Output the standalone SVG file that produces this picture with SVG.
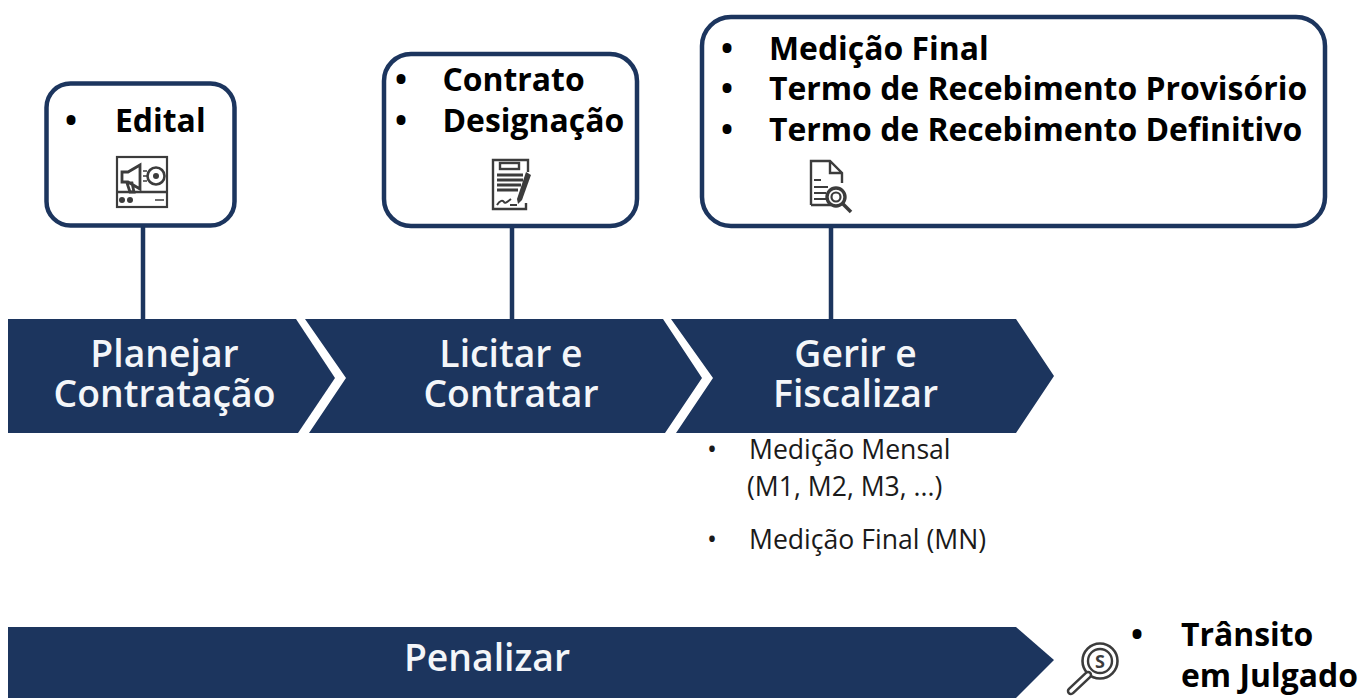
<svg xmlns="http://www.w3.org/2000/svg" width="1360" height="698" viewBox="0 0 1360 698">
<style>
text{font-family:"Open Sans","Noto Sans",sans-serif}
.band{fill:#1c355e}
.box{fill:#fff;stroke:#1c355e;stroke-width:4.5}
.conn{stroke:#1c355e;stroke-width:4.5;fill:none}
.t{font-size:31.900px;font-weight:700;fill:#000}
.b{font-size:37.300px;font-weight:600;fill:#f4f6f9;text-anchor:middle}
.s{font-size:26.600px;fill:#1a1a1a}
.i{fill:none;stroke:#3c3c3c}
.f{fill:#3c3c3c}
</style>
<g id="connectors">
<path class="conn" d="M143 225V320M512 225V320M831 225V320"/>
</g>
<g id="node-edital">
<rect class="box" x="46.500" y="83.500" width="188" height="142" rx="24"/>
<text class="t"><tspan x="65" y="132">•</tspan><tspan x="115" y="132">Edital</tspan></text>
<g>
<rect class="i" x="117" y="157" width="50" height="50" stroke-width="2.200"/>
<path class="i" d="M117 192H167" stroke-width="2.500"/>
<path class="i" d="M122 172h6l12-7v24l-12-7h-6zM127 183h5l2 9h-4z" stroke-width="2.800"/>
<circle class="i" cx="156" cy="176" r="8.500" stroke-width="2.600"/><circle class="f" cx="156" cy="176" r="3"/>
<circle class="f" cx="122" cy="200" r="3"/><circle class="f" cx="130" cy="200" r="3"/>
<path class="i" d="M155 200h9M143 171h4M143 176h4M143 181h4" stroke-width="1.500"/>
</g>
</g>
<g id="node-contrato">
<rect class="box" x="384" y="54" width="253" height="172" rx="27"/>
<text class="t"><tspan x="395" y="91">•</tspan><tspan x="442.500" y="91">Contrato</tspan><tspan x="395" y="132">•</tspan><tspan x="442.500" y="132">Designação</tspan></text>
<g>
<path class="i" d="M528 172V160H493V209H526V203" stroke-width="2.400"/>
<rect class="i" x="500" y="163" width="19" height="6" stroke-width="2.400"/>
<path class="i" d="M497 175H523M497 180H523M497 185H521M497 190H518" stroke-width="2.800"/>
<path class="i" d="M497 205c3-5 6-5 7-3s3 0 7-3M510 205h7" stroke-width="2"/>
<path class="f" d="M526 172l5 3-9 25-4 4-1-5z"/>
</g>
</g>
<g id="node-medicao">
<rect class="box" x="702" y="17" width="623" height="209" rx="29"/>
<text class="t"><tspan x="721" y="60">•</tspan><tspan x="769" y="60">Medição Final</tspan><tspan x="721" y="100">•</tspan><tspan x="769" y="100">Termo de Recebimento Provisório</tspan><tspan x="721" y="141">•</tspan><tspan x="769" y="141">Termo de Recebimento Definitivo</tspan></text>
<g>
<path class="i" d="M811 205V161H830L842 173V183M830 161V173H842M811 205H831" stroke-width="2.400"/>
<path class="i" d="M814 180H821M814 187H828M814 193H826M814 199H826" stroke-width="2.200"/>
<circle class="i" cx="836" cy="197" r="9" stroke-width="3.400"/><circle class="i" cx="836" cy="197" r="4.500" stroke-width="2.200"/>
<path class="i" d="M843 204L851 212" stroke-width="3.500"/>
</g>
</g>
<g id="node-planejar">
<polygon class="band" points="8,319 296,319 335,378 298,433 8,433"/>
<text class="b"><tspan x="164.500" y="367">Planejar</tspan><tspan x="164.500" y="407">Contratação</tspan></text>
</g>
<g id="node-licitar">
<polygon class="band" points="305,319 663,319 702,378 665,433 309,433 346,378"/>
<text class="b"><tspan x="511" y="367">Licitar e</tspan><tspan x="511" y="407">Contratar</tspan></text>
</g>
<g id="node-gerir">
<polygon class="band" points="671,319 1016,319 1054,376 1016,433 676,433 713,378"/>
<text class="b"><tspan x="855.500" y="367">Gerir e</tspan><tspan x="855.500" y="407">Fiscalizar</tspan></text>
</g>
<g id="node-medicoes">
<text class="s"><tspan x="707" y="459">•</tspan><tspan x="749" y="459">Medição Mensal</tspan><tspan x="747" y="496">(M1, M2, M3, ...)</tspan><tspan x="707" y="549">•</tspan><tspan x="749" y="549">Medição Final (MN)</tspan></text>
</g>
<g id="node-penalizar">
<polygon class="band" points="8,627 1016,627 1054,660 1016,698 8,698"/>
<text class="b" x="487" y="671">Penalizar</text>
</g>
<g id="node-transito">
<g>
<circle class="i" cx="1100" cy="661" r="17.500" stroke-width="2.600"/><circle class="i" cx="1100" cy="661" r="12" stroke-width="2.400"/>
<text x="1100" y="668" font-size="18" font-weight="700" fill="#3c3c3c" text-anchor="middle">S</text>
<path class="i" d="M1088 675L1071 691" stroke-width="8.500" stroke-linecap="round"/>
<path d="M1088 675L1071 691" stroke="#fff" stroke-width="3.500" stroke-linecap="round"/>
</g>
<text class="t"><tspan x="1131" y="646">•</tspan><tspan x="1181" y="646">Trânsito</tspan><tspan x="1181" y="687">em Julgado</tspan></text>
</g>
</svg>
